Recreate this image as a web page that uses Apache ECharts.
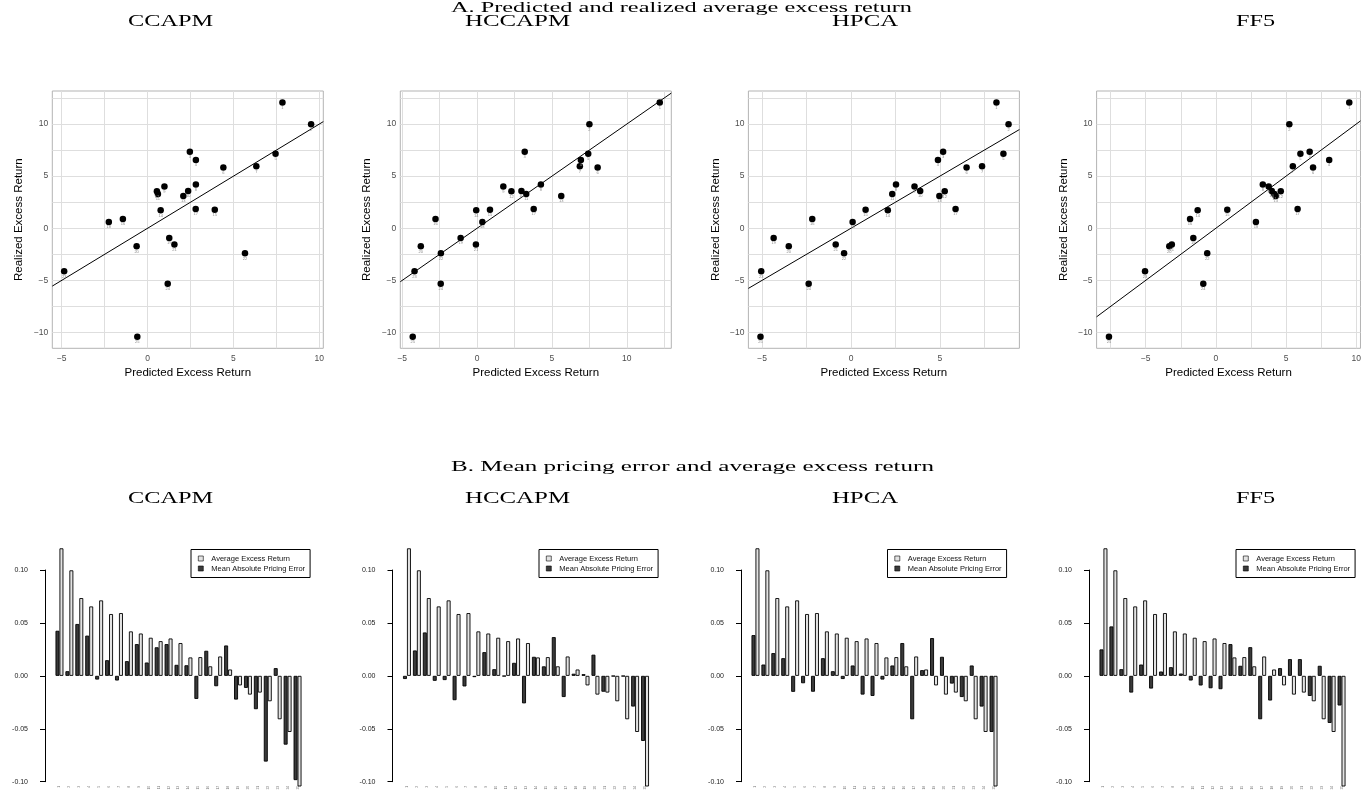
<!DOCTYPE html>
<html><head><meta charset="utf-8">
<script src="https://cdn.jsdelivr.net/npm/echarts@6/dist/echarts.min.js"></script>
<style>html,body{margin:0;padding:0;background:#fff}#c{width:1364px;height:799px}</style>
</head><body><div id="c"></div>
<script>
// ---------------- data ----------------
const models = ['CCAPM', 'HCCAPM', 'HPCA', 'FF5'];
const portfolios = ['1','2','3','4','5','6','7','8','9','10','11','12','13','14','15','16','17','18','19','20','21','22','23','24','25'];

// realized average excess return (percent), scatter y
const realized = [12.07, 9.97, 7.34, 6.56, 7.14, 5.84, 5.94, 4.19, 4.01, 3.58, 3.29, 3.54, 3.09, 1.73, 1.78, 0.89, 1.84, 0.61, -0.93, -1.73, -1.57, -2.39, -4.13, -5.32, -10.42];

// predicted excess return (percent), scatter x
const predCCAPM  = [7.85, 9.52, 2.46, 2.81, 7.45, 4.41, 6.33, 2.81, 0.98, 2.36, 0.60, 0.54, 2.08, 0.76, 3.91, -1.44, 2.80, -2.26, 1.26, -0.64, 1.56, 5.67, -4.86, 1.17, -0.60];
const predHCCAPM = [12.20, 7.50, 3.18, 6.93, 7.42, 8.05, 6.86, 4.26, 1.75, 2.96, 3.28, 2.29, 5.62, -0.06, 0.86, -2.78, 3.78, 0.35, -1.10, -3.76, -0.08, -2.42, -4.18, -2.43, -4.30];
const predHPCA   = [8.18, 8.86, 5.18, 4.89, 8.57, 6.50, 7.37, 2.53, 3.57, 3.89, 2.32, 5.27, 4.97, 2.07, 0.82, -2.18, 5.88, 0.09, -4.35, -3.50, -0.86, -0.39, -5.05, -2.38, -5.09];
const predFF5    = [9.50, 5.23, 6.68, 8.07, 6.02, 6.92, 5.48, 3.34, 3.76, 3.98, 4.16, 4.62, 4.26, -1.30, 0.81, -1.84, 5.82, 2.85, -1.61, -3.32, -3.14, -0.62, -5.05, -0.90, -7.62];

// bar panels (decimal returns)
const avgExcessReturn = [0.1205, 0.0997, 0.0735, 0.0656, 0.0713, 0.0584, 0.0593, 0.0420, 0.0400, 0.0360, 0.0328, 0.0353, 0.0310, 0.0174, 0.0177, 0.0090, 0.0183, 0.0060, -0.0090, -0.0177, -0.0158, -0.0240, -0.0410, -0.0530, -0.1045];
const errCCAPM  = [0.0426, 0.0044, 0.0490, 0.0380, -0.0035, 0.0148, -0.0044, 0.0139, 0.0300, 0.0126, 0.0270, 0.0300, 0.0104, 0.0100, -0.0218, 0.0237, -0.0098, 0.0287, -0.0224, -0.0114, -0.0315, -0.0810, 0.0073, -0.0650, -0.0985];
const errHCCAPM = [-0.0030, 0.0240, 0.0410, -0.0047, -0.0040, -0.0230, -0.0100, -0.0012, 0.0224, 0.0063, -0.0004, 0.0123, -0.0260, 0.0180, 0.0090, 0.0366, -0.0200, 0.0020, 0.0016, 0.0200, -0.0150, -0.0004, -0.0004, -0.0290, -0.0615];
const errHPCA   = [0.0385, 0.0107, 0.0215, 0.0167, -0.0151, -0.0070, -0.0150, 0.0167, 0.0044, -0.0030, 0.0098, -0.0177, -0.0190, -0.0035, 0.0098, 0.0310, -0.0410, 0.0054, 0.0357, 0.0180, -0.0073, -0.0200, 0.0098, -0.0290, -0.0530];
const errFF5    = [0.0250, 0.0467, 0.0063, -0.0158, 0.0107, -0.0120, 0.0041, 0.0082, 0.0022, -0.0044, -0.0091, -0.0117, -0.0126, 0.0300, 0.0095, 0.0271, -0.0410, -0.0233, 0.0073, 0.0158, 0.0158, -0.0190, 0.0095, -0.0445, -0.0280];

// axis breaks
const yBreaks = [-10, -5, 0, 5, 10];
const yMinorBreaks = [-7.5, -2.5, 2.5, 7.5, 12.5];
const xBreaksCCAPM = [-5, 0, 5, 10];   const xMinorCCAPM = [-2.5, 2.5, 7.5];
const xBreaksHCCAPM = [-5, 0, 5, 10];  const xMinorHCCAPM = [-2.5, 2.5, 7.5, 12.5];
const xBreaksHPCA = [-5, 0, 5];        const xMinorHPCA = [-2.5, 2.5, 7.5];
const xBreaksFF5 = [-5, 0, 5, 10];     const xMinorFF5 = [-7.5, -2.5, 2.5, 7.5];
const barTicks = [-0.10, -0.05, 0.00, 0.05, 0.10];

const titleA = 'A. Predicted and realized average excess return';
const titleB = 'B. Mean pricing error and average excess return';
const xName = 'Predicted Excess Return';
const yName = 'Realized Excess Return';
const legendNames = ['Average Excess Return', 'Mean Absolute Pricing Error'];

// ---------------- layout ----------------
const preds = [predCCAPM, predHCCAPM, predHPCA, predFF5];
const errs = [errCCAPM, errHCCAPM, errHPCA, errFF5];
const xBreaks = [xBreaksCCAPM, xBreaksHCCAPM, xBreaksHPCA, xBreaksFF5];
const xMinors = [xMinorCCAPM, xMinorHCCAPM, xMinorHPCA, xMinorFF5];
const xRanges = [[-5.55, 10.23], [-5.13, 12.97], [-5.77, 9.47], [-8.5, 10.3]];
const yRange = [-11.52, 13.17];
const scatterLeft = [52.3, 400.3, 748.4, 1096.6];
const scatterW = 271;
const barLeft = [54.5, 402, 750.5, 1098.5];
const legendLeft = [191, 539, 887.5, 1236];
const subCX = [170.5, 517.5, 865, 1255.5];
const subW = [85, 105, 66, 39];

const sansFont = '"Liberation Sans", Arial, Helvetica, sans-serif';
const serifFont = '"Liberation Serif", "DejaVu Serif", serif';
const minus = s => String(s).replace('-', '\u2212');

const mctx = document.createElement('canvas').getContext('2d');
function serifText(text, cx, cy, targetW, size) {
  const font = size + 'px ' + serifFont;
  mctx.font = font;
  const w = mctx.measureText(text).width;
  return { type: 'text', x: cx, y: cy, scaleX: targetW / w, silent: true,
    style: { text: text, font: font, fill: '#000', align: 'center', verticalAlign: 'middle' } };
}

const option = {
  backgroundColor: '#fff',
  animation: false,
  grid: [], xAxis: [], yAxis: [], series: [], legend: [],
  graphic: { elements: [] }
};
const G = option.graphic.elements;
G.push(serifText(titleA, 681.5, 8.5, 461, 15));
G.push(serifText(titleB, 692.5, 467.5, 483, 15));
models.forEach((m, k) => {
  G.push(serifText(m, subCX[k], 22, subW[k], 16));
  G.push(serifText(m, subCX[k], 498.5, subW[k], 16));
});

models.forEach((m, k) => {
  // ---- scatter panel ----
  const g = option.grid.length;
  option.grid.push({ left: scatterLeft[k], top: 91, width: scatterW, height: 257.3,
    show: true, borderColor: '#b3b3b3', borderWidth: 1, backgroundColor: '#fff' });
  const allX = xBreaks[k].concat(xMinors[k]);
  const allY = yBreaks.concat(yMinorBreaks);
  option.xAxis.push({ type: 'value', gridIndex: g, min: xRanges[k][0], max: xRanges[k][1],
    name: xName, nameLocation: 'middle', nameGap: 19,
    nameTextStyle: { fontFamily: sansFont, fontSize: 11.5, color: '#000' },
    axisLine: { show: false },
    axisTick: { show: false, customValues: allX },
    axisLabel: { customValues: xBreaks[k], margin: 6, fontFamily: sansFont, fontSize: 8.5, color: '#4d4d4d', formatter: v => minus(v) },
    splitLine: { show: true, lineStyle: { color: '#dedede', width: 1 } } });
  option.yAxis.push({ type: 'value', gridIndex: g, min: yRange[0], max: yRange[1],
    name: yName, nameLocation: 'middle', nameGap: 27, nameRotate: 90,
    nameTextStyle: { fontFamily: sansFont, fontSize: 11.5, color: '#000' },
    axisLine: { show: false },
    axisTick: { show: false, customValues: allY },
    axisLabel: { customValues: yBreaks, margin: 4, fontFamily: sansFont, fontSize: 8.5, color: '#4d4d4d', formatter: v => minus(v) },
    splitLine: { show: true, lineStyle: { color: '#dedede', width: 1 } } });
  option.series.push({ type: 'line', xAxisIndex: g, yAxisIndex: g, silent: true,
    data: [[xRanges[k][0], xRanges[k][0]], [xRanges[k][1], xRanges[k][1]]],
    showSymbol: false, lineStyle: { color: '#000', width: 1 }, z: 2 });
  option.series.push({ type: 'scatter', xAxisIndex: g, yAxisIndex: g, z: 3,
    data: preds[k].map((x, i) => [x, realized[i]]),
    symbolSize: 6.5, itemStyle: { color: '#000', opacity: 1 },
    label: { show: true, position: 'bottom', distance: 0, fontSize: 4, color: '#8a8a8a',
      fontFamily: sansFont, formatter: p => portfolios[p.dataIndex] } });

  // ---- bar panel ----
  const b = option.grid.length;
  option.grid.push({ left: barLeft[k], top: 570, width: 248, height: 211.7 });
  option.xAxis.push({ type: 'category', gridIndex: b, data: portfolios,
    axisLine: { show: false, onZero: false }, axisTick: { show: false },
    axisLabel: { rotate: 90, fontSize: 3.5, margin: 4, color: '#777', fontFamily: sansFont, interval: 0 },
    splitLine: { show: false } });
  option.yAxis.push({ type: 'value', gridIndex: b, min: -0.1, max: 0.1, interval: 0.05, offset: 9.5,
    axisLine: { show: true, lineStyle: { color: '#000', width: 1 } },
    axisTick: { show: true, length: 5, lineStyle: { color: '#000', width: 1 } },
    axisLabel: { margin: 17, fontFamily: sansFont, fontSize: 7, color: '#222',
      formatter: v => barTicks.map(t => t.toFixed(2)).find(s => Math.abs(parseFloat(s) - v) < 1e-9) || v.toFixed(2) },
    splitLine: { show: false } });
  option.series.push({ type: 'bar', name: legendNames[1], xAxisIndex: b, yAxisIndex: b,
    data: errs[k], clip: false, barGap: '0%', barCategoryGap: '20%',
    itemStyle: { color: '#3a3a3a', borderColor: '#000', borderWidth: 0.9 } });
  option.series.push({ type: 'bar', name: legendNames[0], xAxisIndex: b, yAxisIndex: b,
    data: avgExcessReturn, clip: false, barGap: '0%', barCategoryGap: '20%',
    itemStyle: { color: '#e3e3e3', borderColor: '#000', borderWidth: 0.9 } });
  option.legend.push({ data: legendNames, left: legendLeft[k], top: 549.5, orient: 'vertical',
    selectedMode: false, borderColor: '#000', borderWidth: 1, borderRadius: 0,
    padding: [5, 5, 5, 7], itemGap: 2, itemWidth: 5, itemHeight: 5, icon: 'rect',
    itemStyle: { borderWidth: 0.6 },
    textStyle: { fontFamily: sansFont, fontSize: 7.5, color: '#111', padding: [0, 0, 0, 3] } });
});

const chart = echarts.init(document.getElementById('c'), null, { renderer: 'canvas' });
chart.setOption(option);
</script>
</body></html>
